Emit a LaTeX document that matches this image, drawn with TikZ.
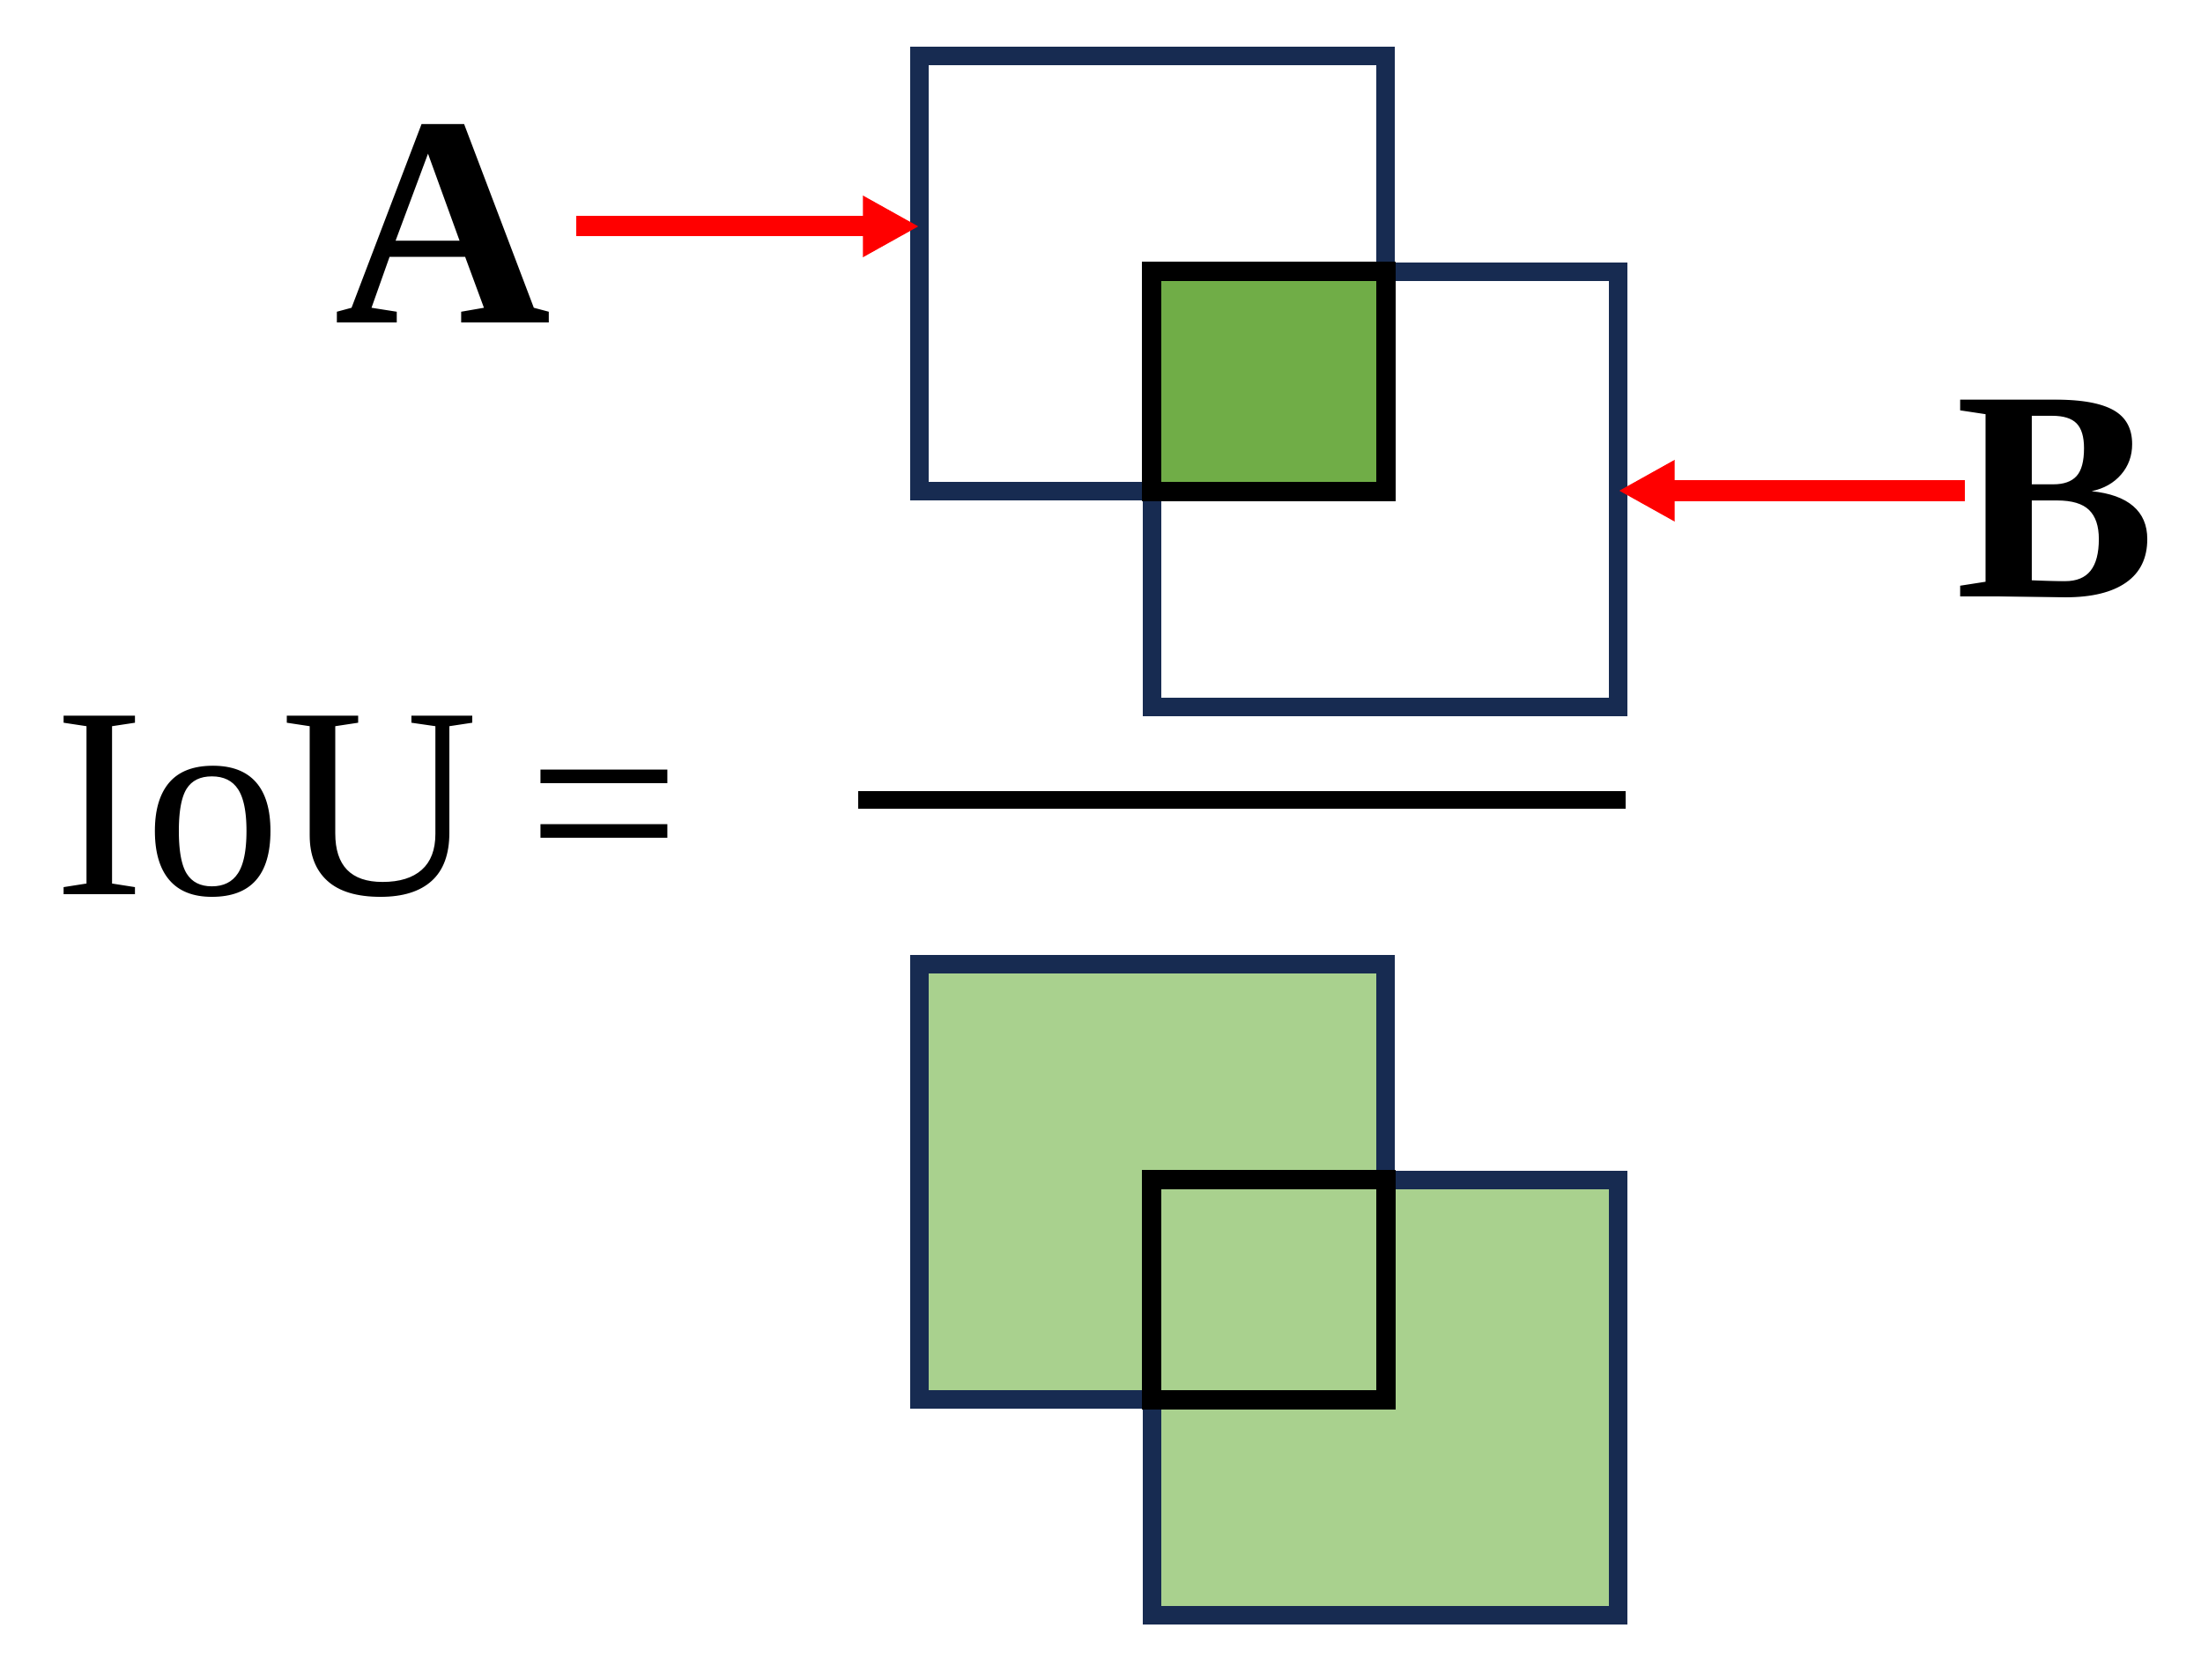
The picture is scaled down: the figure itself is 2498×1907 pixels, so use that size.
\documentclass[tikz,border=0pt]{standalone}
\usepackage{fontspec}
\setmainfont{Liberation Serif}
\usepackage{xcolor}
\usepackage{tikz}
\usetikzlibrary{calc}
\usetikzlibrary{arrows.meta}
\usetikzlibrary{positioning}
\definecolor{navy}{RGB}{23,43,81}
\definecolor{dkgreen}{RGB}{112,173,71}
\definecolor{ltgreen}{RGB}{169,209,142}
\tikzset{>={Triangle[length=0.64cm, width=0.65cm]}}
\tikzstyle{box} = [draw = navy, line width = 0.21cm, minimum width = 5.29cm, minimum height = 4.94cm, inner sep = 0, outer sep = 0]
\tikzstyle{overlap} = [draw = black, line width = 0.22cm]
\tikzstyle{pointer} = [->, draw = red, line width = 0.23cm]
\tikzstyle{letter} = [draw = none, inner sep = 0, anchor = base west, font = \fontsize{97}{110}\selectfont\bfseries]

\begin{document}
\begin{tikzpicture}[x = 0.01cm, y = -0.01cm]
\useasboundingbox (0, 0) rectangle (2498, 1907);
\node [box] (A1) at (1308, 310.5) {};
\node [box] (B1) at (1572, 555.5) {};
\draw [overlap, fill = dkgreen] (B1.north west) rectangle (A1.south east);
\node [letter] (LA) at (379, 367) {A};
\node [letter] (LB) at (2219, 678) {B};
\coordinate (TA) at (654, 257);
\coordinate (TB) at (2230, 557);
\draw [pointer] (TA) to (TA -| A1.west);
\draw [pointer] (TB) to (TB -| B1.east);
\node [draw = none, inner sep = 0, anchor = base west, font = \fontsize{88}{100}\selectfont] (IoU) at (61, 1015) {IoU\hspace{0.18em}=};
\draw [line width = 0.2cm] (974, 908) -- (1845, 908);
\node [box, fill = ltgreen] (A2) at (1308, 1341.5) {};
\node [box, fill = ltgreen] (B2) at (1572, 1586.5) {};
\draw [overlap] (B2.north west) rectangle (A2.south east);
\end{tikzpicture}
\end{document}
